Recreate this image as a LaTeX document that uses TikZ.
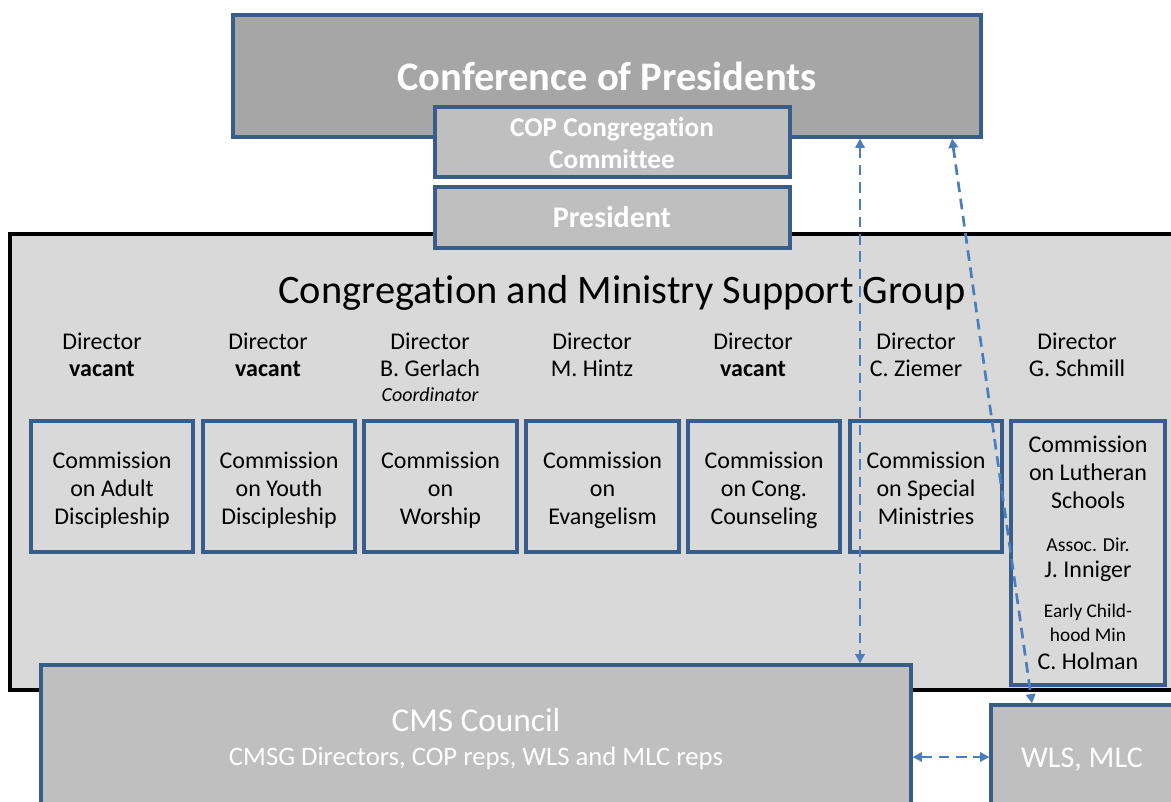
\documentclass[tikz,border=0pt]{standalone}
\usepackage{fontspec}
\setmainfont{Carlito}[Ligatures=NoCommon]
\usetikzlibrary{positioning, fit, arrows.meta}

\definecolor{boxblue}{HTML}{385D8A}
\definecolor{linkblue}{HTML}{4A7EBB}
\definecolor{darkfill}{HTML}{A6A6A6}
\definecolor{midfill}{HTML}{BFBFBF}
\definecolor{lightfill}{HTML}{D9D9D9}

\tikzset{
  box/.style={draw=boxblue, line width=2.4pt, inner sep=0pt},
  lbl/.style={anchor=base, inner sep=0pt},
  txt/.style={inner sep=0pt, align=center, font=\fontsize{18}{21}\selectfont},
  link/.style={draw=linkblue, line width=2pt, dash pattern=on 8pt off 5pt,
    {Triangle[length=7pt,width=7pt]}-{Triangle[length=7pt,width=7pt]}},
}

\begin{document}
\begin{tikzpicture}[x=0.75pt, y=-0.75pt]
  \useasboundingbox (0,0) rectangle (1171,801);

  % support group frame
  \node[fit={(10,234) (1190,690)}, draw=black, fill=lightfill, line width=2.4pt, inner sep=0pt] (cmsg) {};
  \node[lbl, font=\fontsize{30.3}{36}\selectfont] (cmsgtitle) at (622,303) {Congregation and Ministry Support Group};

  % top of the chart
  \node[box, fill=darkfill, fit={(233,15) (981,137)}] (cop) {};
  \node[lbl, text=white, font=\bfseries\fontsize{30.4}{36}\selectfont] (coptitle) at (607,90) {Conference of Presidents};
  \node[box, fill=midfill, fit={(435,107) (790,177)}] (copcc) {};
  \node[lbl, text=white, font=\bfseries\fontsize{20.4}{24}\selectfont] (copcc1) at (612,136) {COP Congregation};
  \node[lbl, text=white, font=\bfseries\fontsize{20.4}{24}\selectfont] (copcc2) at (612,168) {Committee};
  \node[box, fill=midfill, fit={(435,187) (790,248)}] (pres) {};
  \node[lbl, text=white, font=\bfseries\fontsize{22.5}{26}\selectfont] (prestitle) at (612,227) {President};

  % directors
  \foreach \x/\who [count=\i] in {102/\textbf{vacant}, 268/\textbf{vacant}, 430/B. Gerlach,
      592/M. Hintz, 753/\textbf{vacant}, 916/C. Ziemer, 1077/G. Schmill} {
    \node[lbl, font=\fontsize{18}{21}\selectfont] (dir\i) at (\x,349) {Director};
    \node[lbl, font=\fontsize{18}{21}\selectfont] (who\i) at (\x,376) {\who};
  }
  \node[lbl, font=\itshape\fontsize{15}{18}\selectfont] (coord) at (430,401) {Coordinator};

  % commissions
  \foreach \name/\xa/\xb/\what in {adult/31/193/{Commission\\on Adult\\Discipleship},
      youth/203/355/{Commission\\on Youth\\Discipleship},
      worship/364/517/{Commission\\on\\Worship},
      evang/526/679/{Commission\\on\\Evangelism},
      couns/688/840/{Commission\\on Cong.\\Counseling},
      special/850/1002/{Commission\\on Special\\Ministries}} {
    \node[box, fill=lightfill, fit={(\xa,421) (\xb,552)}] (\name) {};
    \node[txt] (\name txt) at ([yshift=-4.8pt]\name.center) {\what\strut};
  }
  \node[box, fill=lightfill, fit={(1011,421) (1165,685)}] (schools) {};
  \node[lbl, font=\fontsize{18}{21}\selectfont] (s1) at (1088,452) {Commission};
  \node[lbl, font=\fontsize{18}{21}\selectfont] (s2) at (1088,480) {on Lutheran};
  \node[lbl, font=\fontsize{18}{21}\selectfont] (s3) at (1088,508) {Schools};
  \node[lbl, font=\fontsize{14.8}{18}\selectfont] (s4) at (1088,551) {Assoc. Dir.};
  \node[lbl, font=\fontsize{18}{21}\selectfont] (s5) at (1088,577) {J. Inniger};
  \node[lbl, font=\fontsize{14.5}{18}\selectfont] (s6) at (1088,617) {Early Child-};
  \node[lbl, font=\fontsize{14.5}{18}\selectfont] (s7) at (1088,641) {hood Min};
  \node[lbl, font=\fontsize{18}{21}\selectfont] (s8) at (1088,669) {C. Holman};

  % council and seminaries
  \node[box, fill=midfill, fit={(41,665) (911,830)}] (council) {};
  \node[lbl, text=white, font=\fontsize{25}{30}\selectfont] (c1) at (476,731) {CMS Council};
  \node[lbl, text=white, font=\fontsize{20}{24}\selectfont] (c2) at (476,765) {CMSG Directors, COP reps, WLS and MLC reps};
  \node[box, fill=midfill, fit={(991,705) (1200,830)}] (wls) {};
  \node[lbl, text=white, font=\fontsize{22.6}{27}\selectfont] (w1) at (1082,767) {WLS, MLC};

  % links
  \draw[link] (cop.south -| 860,0) -- (council.north -| 860,0);
  \draw[link] (cop.south -| 952,0) -- (wls.north -| 1032,0);
  \draw[link] (council.east |- 0,757) -- (wls.west |- 0,757);
\end{tikzpicture}
\end{document}
